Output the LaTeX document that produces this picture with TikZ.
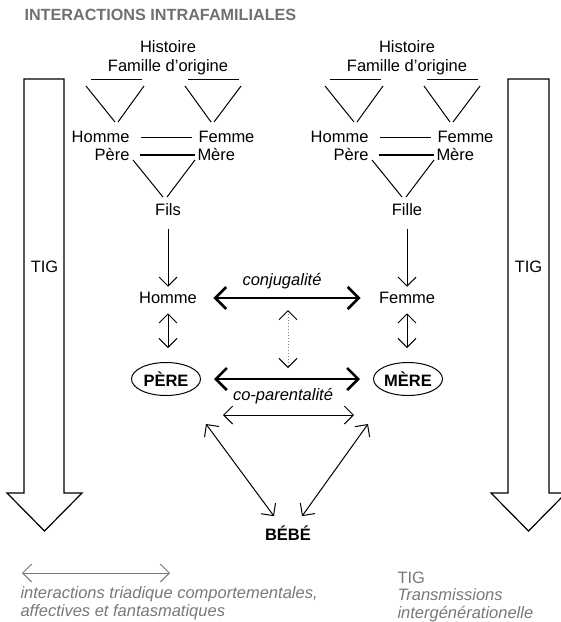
\documentclass[tikz,border=0pt]{standalone}
\usepackage{fontspec}
\setmainfont{Liberation Sans}
\usetikzlibrary{arrows.meta,shapes.geometric,calc}
\definecolor{titlegray}{RGB}{112,112,112}
\definecolor{leggray}{RGB}{120,120,120}
\begin{document}
\begin{tikzpicture}[x=1pt,y=-1pt,line width=1pt,
    lbl/.style={inner sep=0pt,font=\fontsize{16.5}{19}\selectfont},
    bold/.style={lbl,font=\fontsize{16.5}{19}\selectfont\bfseries},
    parent/.style={bold,draw,ellipse,line width=1pt,minimum width=69pt,minimum height=33pt},
    thinarr/.style={line width=1pt,{Straight Barb[length=9pt,width=18pt]}-{Straight Barb[length=9pt,width=18pt]}},
    downarr/.style={line width=1pt,-{Straight Barb[length=9pt,width=18pt]}},
    thickarr/.style={line width=2.6pt,{Straight Barb[length=11pt,width=22pt]}-{Straight Barb[length=11pt,width=22pt]}},
    bigarr/.style={draw,fill=white,line width=1.2pt,line join=miter}]
    \useasboundingbox (0,0) rectangle (561,622);
    \node[font=\fontsize{16.2}{18}\selectfont\bfseries,text=titlegray,anchor=west,inner sep=0pt] (title) at (24,15) {INTERACTIONS INTRAFAMILIALES};
    % grandes fleches TIG
    \draw[bigarr] (24,79) -- (64,79) -- (64,493) -- (82,493) -- (44.5,531) -- (7,493) -- (24,493) -- cycle;
    \draw[bigarr] (508,79) -- (549,79) -- (549,493) -- (566,493) -- (528.5,531) -- (491,493) -- (508,493) -- cycle;
    \node[lbl] (tigL) at (44.5,267) {TIG};
    \node[lbl] (tigR) at (528.5,267) {TIG};
    % familles d'origine
    \foreach \dx/\kid/\nm in {0/Fils/L, 239/Fille/R} {
        \begin{scope}[xshift=\dx]
            \node[lbl,align=center] (hist\nm) at (168,57.5) {Histoire\\Famille d'origine};
            \draw (91,79) -- (142,79) (188,79) -- (239,79);
            \draw (86,86) -- (115,122) (144,86) -- (118,122);
            \draw (185,86) -- (211,122) (241,86) -- (214,122);
            \node[lbl,anchor=east] (homme\nm) at (130,137) {Homme};
            \node[lbl,anchor=west] (femme\nm) at (198,137) {Femme};
            \node[lbl,anchor=east] (pere\nm) at (130,155) {Père};
            \node[lbl,anchor=west] (mere\nm) at (197,155) {Mère};
            \draw ([xshift=11pt]homme\nm.east) -- ([xshift=-6pt]femme\nm.west);
            \draw[line width=1.3pt] ([xshift=10pt]pere\nm.east) -- ([xshift=-2pt]mere\nm.west);
            \draw (133,160) -- (163,197) (195,160) -- (167,197);
            \node[lbl] (kid\nm) at (168,210) {\kid};
        \end{scope}
    }
    % couple
    \node[lbl] (homme) at (168,298) {Homme};
    \node[lbl] (femme) at (407,298) {Femme};
    \node[parent] (pere) at (166,379) {PÈRE};
    \node[parent] (mere) at (408,379) {MÈRE};
    \node[bold] (bebe) at (288,533) {BÉBÉ};
    \draw[downarr,shorten <=12pt,shorten >=5pt] (kidL) -- (homme);
    \draw[downarr,shorten <=12pt,shorten >=5pt] (kidR) -- (femme);
    \draw[thinarr,shorten <=9pt,shorten >=14pt] (homme.south) -- (homme.south |- pere.north);
    \draw[thinarr,shorten <=9pt,shorten >=14pt] (femme.south) -- (femme.south |- mere.north);
    \draw[thickarr,shorten <=16pt,shorten >=18pt] (homme.east) -- (femme.west);
    \node[lbl,font=\fontsize{16.5}{19}\selectfont\itshape] (conj) at (282,281) {conjugalité};
    \draw[thickarr,shorten <=13pt,shorten >=13pt] (pere.east) -- (mere.west);
    \node[lbl,font=\fontsize{16.5}{19}\selectfont\itshape] (copar) at (283,396) {co-parentalité};
    \coordinate (conjmid) at (288,299);
    \coordinate (coparmid) at (288,380);
    \draw[gray,dotted,line width=1pt,{Straight Barb[length=9pt,width=18pt,color=black]}-{Straight Barb[length=9pt,width=18pt,color=black]},shorten <=11pt,shorten >=12pt] (conjmid) -- (coparmid);
    % triade
    \coordinate (triA) at (223,415);
    \coordinate (triB) at (354,415);
    \coordinate (triC) at (206,424);
    \coordinate (triD) at (368,424);
    \draw[thinarr] (triA) -- (triB);
    \draw[thinarr] (triC) -- ($(bebe.north)+(-14,-9)$);
    \draw[thinarr] (triD) -- ($(bebe.north)+(14,-9)$);
    % legende
    \coordinate (legA) at (22,573);
    \coordinate (legB) at (170,573);
    \draw[leggray,line width=1pt,{Straight Barb[length=9pt,width=18pt]}-{Straight Barb[length=9pt,width=18pt]}] (legA) -- (legB);
    \node[lbl,text=leggray,anchor=west,align=left,font=\fontsize{16.5}{18.5}\selectfont\itshape] (legtri) at (20,603) {interactions triadique comportementales,\\affectives et fantasmatiques};
    \node[lbl,text=leggray,anchor=west] (legtig) at (397,578) {TIG};
    \node[lbl,text=leggray,anchor=west,align=left,font=\fontsize{16.5}{18.5}\selectfont\itshape] (legtig2) at (397,605) {Transmissions\\intergénérationelle};
\end{tikzpicture}
\end{document}
